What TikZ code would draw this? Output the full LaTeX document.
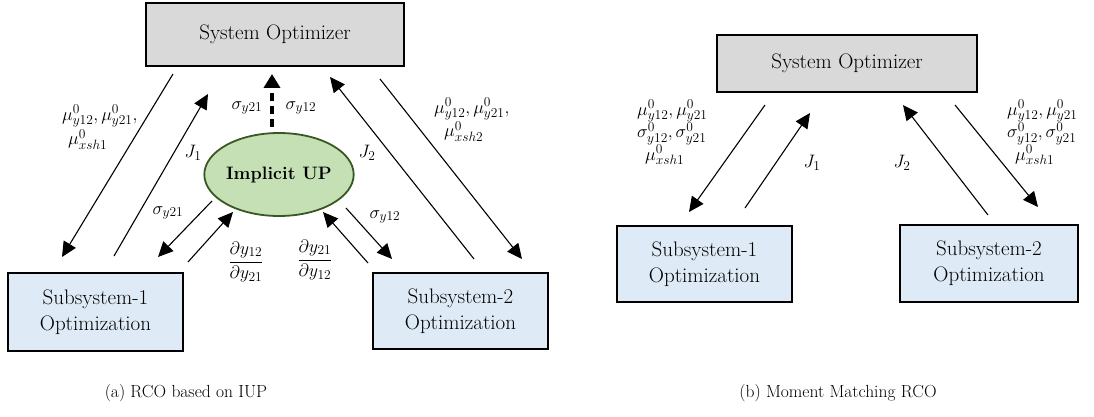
\RequirePackage{fix-cm}
\documentclass[tikz,border=0pt]{standalone}
\usetikzlibrary{arrows.meta,shapes.geometric}
\DeclareMathSizes{18}{18}{13.5}{10}
\begin{document}
\begin{tikzpicture}[x=1pt,y=-1pt,
  box/.style={draw=black,line width=2.6pt,minimum width=#1,inner sep=0pt,align=center,font=\fontsize{21}{26}\selectfont},
  arr/.style={line width=1.1pt,-{Triangle[length=15pt,width=14pt]}},
  lab/.style={font=\fontsize{18}{22.5}\selectfont,inner sep=1pt},
  stack/.style={lab,align=left},
  captext/.style={font=\fontsize{17.5}{20}\selectfont}]
\useasboundingbox (0,0) rectangle (1094,417);
\definecolor{sysgray}{HTML}{D9D9D9}
\definecolor{subblue}{HTML}{DEEBF7}
\definecolor{upgreen}{HTML}{C5E0B4}
\definecolor{updark}{HTML}{385723}
% ---------- left panel ----------
\node[box=258pt,minimum height=63pt,fill=sysgray] (sysA) at (275,34.5) {System Optimizer};
\node[box=175pt,minimum height=78pt,fill=subblue] (s1A) at (95.5,312) {Subsystem-1\\Optimization};
\node[box=175pt,minimum height=76pt,fill=subblue] (s2A) at (460.5,311) {Subsystem-2\\Optimization};
\node[ellipse,draw=updark,fill=upgreen,line width=1.8pt,minimum width=132pt,minimum height=83pt,inner sep=0pt,font=\fontsize{18}{20}\selectfont\bfseries] (up) at (279,174.5) {Implicit UP};
\coordinate (a1s) at (173,74);   \coordinate (a1e) at (62,257);
\coordinate (a2s) at (114,256);  \coordinate (a2e) at (208,94);
\coordinate (a3s) at (212,201);  \coordinate (a3e) at (158,257);
\coordinate (a4s) at (188,262);  \coordinate (a4e) at (233,212);
\coordinate (a5s) at (368,263);  \coordinate (a5e) at (323,212);
\coordinate (a6s) at (346,208);  \coordinate (a6e) at (392,259);
\coordinate (a7s) at (474,259);  \coordinate (a7e) at (330,77);
\coordinate (a8s) at (380,79);   \coordinate (a8e) at (522,259);
\coordinate (dS) at (272,127);   \coordinate (dE) at (272,74);
\draw[arr] (a1s) -- (a1e);
\draw[arr] (a2s) -- (a2e);
\draw[arr] (a3s) -- (a3e);
\draw[arr] (a4s) -- (a4e);
\draw[arr] (a5s) -- (a5e);
\draw[arr] (a6s) -- (a6e);
\draw[arr] (a7s) -- (a7e);
\draw[arr] (a8s) -- (a8e);
\draw[line width=3.5pt,dash pattern=on 8pt off 5pt,-{Triangle[length=14pt,width=16pt]}] (dS) -- (dE);
\node[stack,anchor=north west] (lmA) at (61,104) {$\mu^0_{y12},\mu^0_{y21},$\\[2pt]\hspace*{6pt}$\mu^0_{xsh1}$};
\node[lab] (lj1) at (193,153) {$J_1$};
\node[lab] (lsa) at (247,108) {$\sigma_{y21}$};
\node[lab] (lsb) at (301,108) {$\sigma_{y12}$};
\node[lab] (lj2) at (367,153) {$J_2$};
\node[stack,anchor=north west] (lmB) at (433,97) {$\mu^0_{y12},\mu^0_{y21},$\\[1pt]\hspace*{10pt}$\mu^0_{xsh2}$};
\node[lab] (ls21) at (168,213) {$\sigma_{y21}$};
\node[lab] (ls12) at (385,217) {$\sigma_{y12}$};
\node[lab] (lf1) at (246,262) {$\displaystyle\frac{\partial y_{12}}{\partial y_{21}}$};
\node[lab] (lf2) at (315,260) {$\displaystyle\frac{\partial y_{21}}{\partial y_{12}}$};
\node[captext] (capA) at (186,393) {(a) RCO based on IUP};
% ---------- right panel ----------
\node[box=260pt,minimum height=57pt,fill=sysgray] (sysB) at (847,63.5) {System Optimizer};
\node[box=175pt,minimum height=76pt,fill=subblue] (s1B) at (704.5,264) {Subsystem-1\\Optimization};
\node[box=178pt,minimum height=77pt,fill=subblue] (s2B) at (989,263.5) {Subsystem-2\\Optimization};
\coordinate (b1s) at (765,105);  \coordinate (b1e) at (689,212);
\coordinate (b2s) at (745,208);  \coordinate (b2e) at (810,113);
\coordinate (b3s) at (988,215);  \coordinate (b3e) at (903,105);
\coordinate (b4s) at (955,105);  \coordinate (b4e) at (1038,207);
\draw[arr] (b1s) -- (b1e);
\draw[arr] (b2s) -- (b2e);
\draw[arr] (b3s) -- (b3e);
\draw[arr] (b4s) -- (b4e);
\node[stack,anchor=north west] (rlA) at (636,99) {$\mu^0_{y12},\mu^0_{y21}$\\$\sigma^0_{y12},\sigma^0_{y21}$\\\hspace*{8pt}$\mu^0_{xsh1}$};
\node[lab] (rj1) at (812,163) {$J_1$};
\node[lab] (rj2) at (902,163) {$J_2$};
\node[stack,anchor=north west] (rlB) at (1006,99) {$\mu^0_{y12},\mu^0_{y21}$\\$\sigma^0_{y12},\sigma^0_{y21}$\\\hspace*{8pt}$\mu^0_{xsh1}$};
\node[captext] (capB) at (838,393) {(b) Moment Matching RCO};
\end{tikzpicture}
\end{document}
